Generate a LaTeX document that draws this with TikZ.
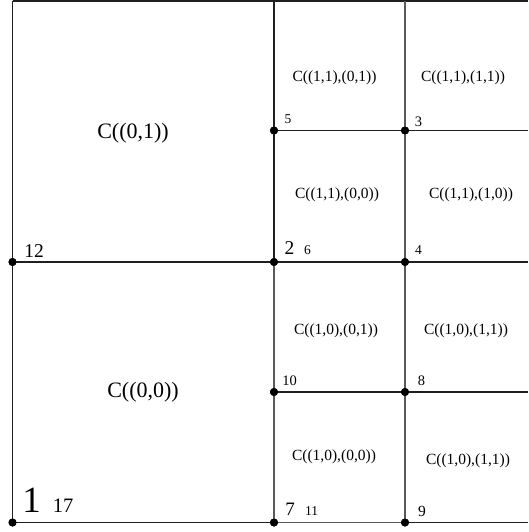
\documentclass[tikz,border=0pt]{standalone}
\usepackage{fontspec}
\setmainfont{Liberation Serif}
\begin{document}
\begin{tikzpicture}[x=1pt,y=-1pt,
  dot/.style={circle,fill=black,inner sep=0pt,minimum size=8pt},
  lbl/.style={inner sep=0pt,anchor=center},
  bigc/.style={lbl,font=\fontsize{22}{24}\selectfont},
  smallc/.style={lbl,font=\fontsize{15.5}{17}\selectfont},
  dk/.style={draw=black!88,line width=1.3pt},
  gr/.style={draw=black!65,line width=1.3pt}]
\useasboundingbox (0,0) rectangle (528,532);
% grid points
\coordinate (TL) at (12.5,1);
\coordinate (TM) at (274,1);
\coordinate (TR) at (405,1);
\coordinate (TE) at (528,1);
\coordinate (E1) at (528,130.5);
\coordinate (E2) at (528,262);
\coordinate (E3) at (528,392);
\coordinate (E4) at (528,522.5);
\node[dot] (n12) at (12.5,262) {};
\node[dot] (n2) at (274,262) {};
\node[dot] (n4) at (405,262) {};
\node[dot] (n5) at (274,130.5) {};
\node[dot] (n3) at (405,130.5) {};
\node[dot] (n10) at (274,392) {};
\node[dot] (n8) at (405,392) {};
\node[dot] (n1) at (12.5,522.5) {};
\node[dot] (n7) at (274,522.5) {};
\node[dot] (n9) at (405,522.5) {};
% lines
\draw[dk] (TL) -- (TE);
\draw[dk] (TL) -- (n12.center) -- (n1.center);
\draw[dk] (TM) -- (n5.center) -- (n2.center);
\draw[gr] (n2.center) -- (n10.center) -- (n7.center);
\draw[gr] (TR) -- (n3.center) -- (n4.center) -- (n8.center) -- (n9.center);
\draw[dk] (n5.center) -- (n3.center) -- (E1);
\draw[dk] (n12.center) -- (n2.center) -- (n4.center) -- (E2);
\draw[dk] (n10.center) -- (n8.center) -- (E3);
\draw[dk] (n1.center) -- (n7.center);
\draw[gr] (n7.center) -- (n9.center);
\draw[dk] (n9.center) -- (E4);
% redraw dots on top
\foreach \n in {n12,n2,n4,n5,n3,n10,n8,n1,n7,n9} \fill (\n) circle (4pt);
% cell labels
\node[bigc] (c01) at (133,133) {C((0,1))};
\node[bigc] (c00) at (143,392) {C((0,0))};
\node[smallc] (a) at (334.5,78) {C((1,1),(0,1))};
\node[smallc] (b) at (463,78) {C((1,1),(1,1))};
\node[smallc] (c) at (337,195) {C((1,1),(0,0))};
\node[smallc] (d) at (471,195) {C((1,1),(1,0))};
\node[smallc] (e) at (336,331) {C((1,0),(0,1))};
\node[smallc] (f) at (466,331) {C((1,0),(1,1))};
\node[smallc] (g) at (334,457) {C((1,0),(0,0))};
\node[smallc] (h) at (468,461) {C((1,0),(1,1))};
% number labels
\node[lbl,font=\fontsize{13.5}{15}\selectfont] (l5) at (288,119) {5};
\node[lbl,font=\fontsize{14.5}{16}\selectfont] (l3) at (418.5,122) {3};
\node[lbl,font=\fontsize{19.5}{21}\selectfont] (l2) at (289.5,248.5) {2};
\node[lbl,font=\fontsize{13.5}{15}\selectfont] (l6) at (307.5,250.5) {6};
\node[lbl,font=\fontsize{13.5}{15}\selectfont] (l4) at (418.5,250.5) {4};
\node[lbl,font=\fontsize{19.5}{21}\selectfont] (l12) at (34,251.5) {12};
\node[lbl,font=\fontsize{14.5}{16}\selectfont] (l10) at (289.5,381) {10};
\node[lbl,font=\fontsize{14.5}{16}\selectfont] (l8) at (421.5,381) {8};
\node[lbl,font=\fontsize{19}{21}\selectfont] (l7) at (290,509.5) {7};
\node[lbl,font=\fontsize{13.5}{15}\selectfont] (l11) at (311.5,511.5) {11};
\node[lbl,font=\fontsize{15.5}{17}\selectfont] (l9) at (422,511.5) {9};
\node[lbl,font=\fontsize{37}{40}\selectfont] (l1) at (31.5,500.5) {1};
\node[lbl,font=\fontsize{20.5}{22}\selectfont] (l17) at (63,506) {17};
\end{tikzpicture}
\end{document}
